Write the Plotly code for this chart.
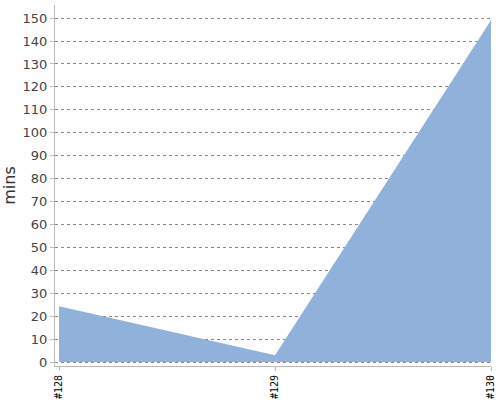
import plotly.graph_objects as go

builds = ['#128', '#129', '#130']
minutes = [24.4, 3.0, 149.0]

AREA_COLOR = '#8fb1da'
AXIS_COLOR = '#bbbbbb'

fig = go.Figure()

fig.add_trace(go.Scatter(
    x=list(range(len(builds))), y=minutes, mode='lines', fill='tozeroy',
    line=dict(color=AREA_COLOR, width=0),
    fillcolor=AREA_COLOR, showlegend=False, hoverinfo='skip',
))

fig.update_layout(
    width=500, height=400,
    margin=dict(l=55, r=9, t=5, b=34),
    plot_bgcolor='white', paper_bgcolor='white',
    font=dict(family='DejaVu Sans', color='#444444'),
    xaxis=dict(
        range=[-0.0185, 2], tickmode='array',
        tickvals=list(range(len(builds))), ticktext=builds,
        tickangle=-90, tickfont=dict(family='DejaVu Sans Mono', size=10, color='#000000'),
        showgrid=False, zeroline=False, automargin=False,
        showline=True, linecolor=AXIS_COLOR, linewidth=1,
        ticks='outside', ticklen=4, tickcolor=AXIS_COLOR,
    ),
    yaxis=dict(
        range=[-1.7, 155.7], tickmode='linear', tick0=0, dtick=10,
        tickfont=dict(size=13, color='#444444'),
        showgrid=True, gridcolor='#888888', griddash='dot', gridwidth=1,
        zeroline=False, automargin=False,
        showline=True, linecolor=AXIS_COLOR, linewidth=1,
        ticks='outside', ticklen=4, tickcolor=AXIS_COLOR,
        title=dict(text='mins', font=dict(size=16, color='#333333')),
    ),
)

# page has a default 8px body margin; drop it so the chart sits at 0,0
fig.write_html('out.html', config={'displayModeBar': False},
               post_script="document.body.style.margin='0';")
